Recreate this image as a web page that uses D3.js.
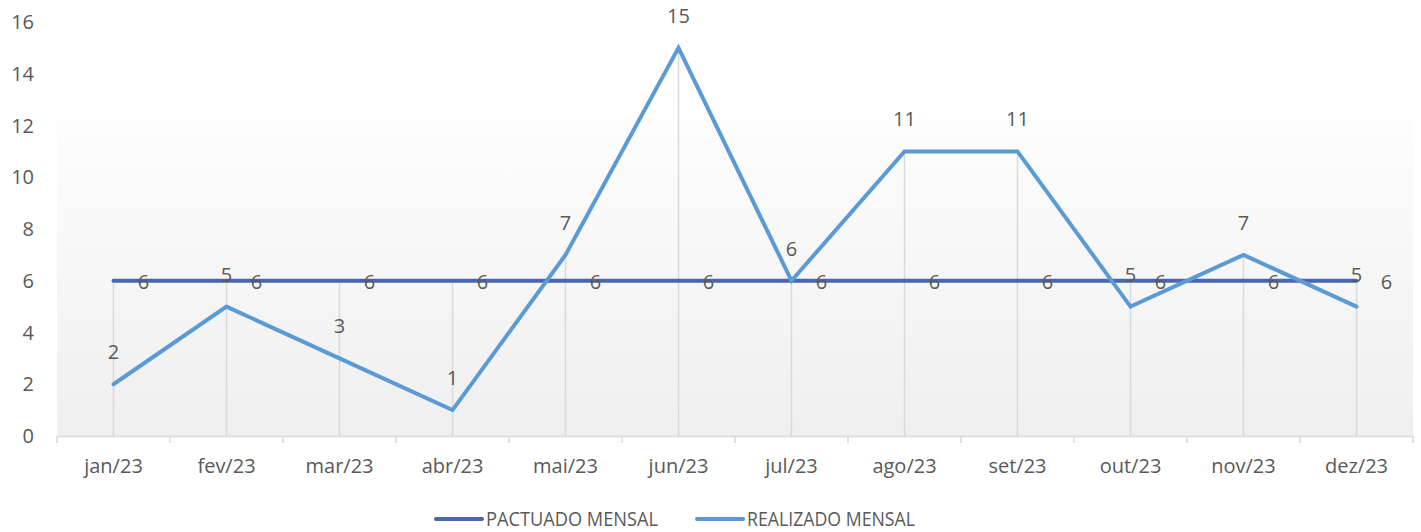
<!DOCTYPE html>
<html>
<head>
<meta charset="utf-8">
<script src="https://cdn.jsdelivr.net/npm/d3@7"></script>
<style>
  body { margin: 0; background: #fff; }
  text { font-family: "Open Sans", sans-serif; fill: #595959; }
</style>
</head>
<body>
<div id="chart"></div>
<script>
const FRAME_WIDTH = 1421;
const FRAME_HEIGHT = 532;
const MARGINS = {left: 57, right: 8, top: 22, bottom: 96};

const months = ["jan/23", "fev/23", "mar/23", "abr/23", "mai/23", "jun/23",
                "jul/23", "ago/23", "set/23", "out/23", "nov/23", "dez/23"];
const pactuado = [6, 6, 6, 6, 6, 6, 6, 6, 6, 6, 6, 6];
const realizado = [2, 5, 3, 1, 7, 15, 6, 11, 11, 5, 7, 5];
const yTicks = [0, 2, 4, 6, 8, 10, 12, 14, 16];
const seriesNames = ["PACTUADO MENSAL", "REALIZADO MENSAL"];
const seriesColors = ["#4a66ad", "#5b9bd5"];

const VIS_WIDTH = FRAME_WIDTH - MARGINS.left - MARGINS.right;
const VIS_HEIGHT = FRAME_HEIGHT - MARGINS.top - MARGINS.bottom;

const svg = d3.select("#chart")
  .append("svg")
    .attr("width", FRAME_WIDTH)
    .attr("height", FRAME_HEIGHT);

const X_SCALE = d3.scaleBand()
  .domain(months)
  .range([MARGINS.left, MARGINS.left + VIS_WIDTH]);

const Y_SCALE = d3.scaleLinear()
  .domain([0, 16])
  .range([MARGINS.top + VIS_HEIGHT, MARGINS.top]);

const cx = (m) => X_SCALE(m) + X_SCALE.bandwidth() / 2;

// gradient plot background (only the lower part, like the original)
const grad = svg.append("defs").append("linearGradient")
  .attr("id", "bg").attr("x1", 0).attr("y1", 0).attr("x2", 0).attr("y2", 1);
grad.append("stop").attr("offset", "0%").attr("stop-color", "#fdfdfd");
grad.append("stop").attr("offset", "100%").attr("stop-color", "#efefef");

svg.append("rect")
  .attr("x", MARGINS.left)
  .attr("y", Y_SCALE(12.2))
  .attr("width", VIS_WIDTH)
  .attr("height", Y_SCALE(0) - Y_SCALE(12.2))
  .attr("fill", "url(#bg)");

// drop lines
svg.selectAll(".drop")
  .data(months)
  .enter()
  .append("line")
    .attr("x1", (d) => cx(d))
    .attr("x2", (d) => cx(d))
    .attr("y1", (d, i) => Y_SCALE(Math.max(pactuado[i], realizado[i])))
    .attr("y2", Y_SCALE(0))
    .attr("stroke", "#d9d9d9")
    .attr("stroke-width", 1.5);

// y axis labels
svg.append("g")
  .selectAll("text")
  .data(yTicks)
  .enter()
  .append("text")
    .attr("x", 34)
    .attr("y", (d) => Y_SCALE(d))
    .attr("dy", "0.35em")
    .attr("text-anchor", "end")
    .attr("font-size", "20px")
    .text((d) => d);

// x axis
const xAxis = svg.append("g")
  .attr("transform", "translate(0," + Y_SCALE(0) + ")")
  .call(d3.axisBottom(X_SCALE).tickSize(0).tickPadding(23));
xAxis.select(".domain").attr("stroke", "#d9d9d9").attr("stroke-width", 1.5);
xAxis.selectAll("text")
  .attr("font-size", "20px")
  .attr("font-family", "Open Sans, sans-serif")
  .attr("fill", "#595959");

const bounds = months.map((m) => X_SCALE(m)).concat([MARGINS.left + VIS_WIDTH]);
xAxis.selectAll(".tk")
  .data(bounds)
  .enter()
  .append("line")
    .attr("x1", (d) => d).attr("x2", (d) => d)
    .attr("y1", 0).attr("y2", 7)
    .attr("stroke", "#d9d9d9")
    .attr("stroke-width", 1.5);

// lines
const line = d3.line()
  .x((d, i) => cx(months[i]))
  .y((d) => Y_SCALE(d));

svg.append("path")
  .datum(pactuado)
  .attr("d", line)
  .attr("fill", "none")
  .attr("stroke", seriesColors[0])
  .attr("stroke-width", 4)
  .attr("stroke-linecap", "round");

svg.append("path")
  .datum(realizado)
  .attr("d", line)
  .attr("fill", "none")
  .attr("stroke", seriesColors[1])
  .attr("stroke-width", 4)
  .attr("stroke-linecap", "round")
  .attr("stroke-linejoin", "miter");

// data labels
svg.selectAll(".lblP")
  .data(pactuado)
  .enter()
  .append("text")
    .attr("x", (d, i) => cx(months[i]) + 30)
    .attr("y", (d) => Y_SCALE(d) + 1)
    .attr("dy", "0.35em")
    .attr("text-anchor", "middle")
    .attr("font-size", "20px")
    .text((d) => d);

svg.selectAll(".lblR")
  .data(realizado)
  .enter()
  .append("text")
    .attr("x", (d, i) => cx(months[i]))
    .attr("y", (d) => Y_SCALE(d) - 32)
    .attr("dy", "0.35em")
    .attr("text-anchor", "middle")
    .attr("font-size", "20px")
    .text((d) => d);

// legend
const legendX = [436, 697];
const legendW = [172, 168];
const legend = svg.append("g");
seriesNames.forEach((name, i) => {
  legend.append("line")
    .attr("x1", legendX[i]).attr("x2", legendX[i] + 46)
    .attr("y1", 519).attr("y2", 519)
    .attr("stroke", seriesColors[i])
    .attr("stroke-width", 4)
    .attr("stroke-linecap", "round");
  legend.append("text")
    .attr("x", legendX[i] + 50)
    .attr("y", 519)
    .attr("dy", "0.36em")
    .attr("font-size", "20px")
    .attr("textLength", legendW[i])
    .attr("lengthAdjust", "spacingAndGlyphs")
    .text(name);
});
</script>
</body>
</html>
